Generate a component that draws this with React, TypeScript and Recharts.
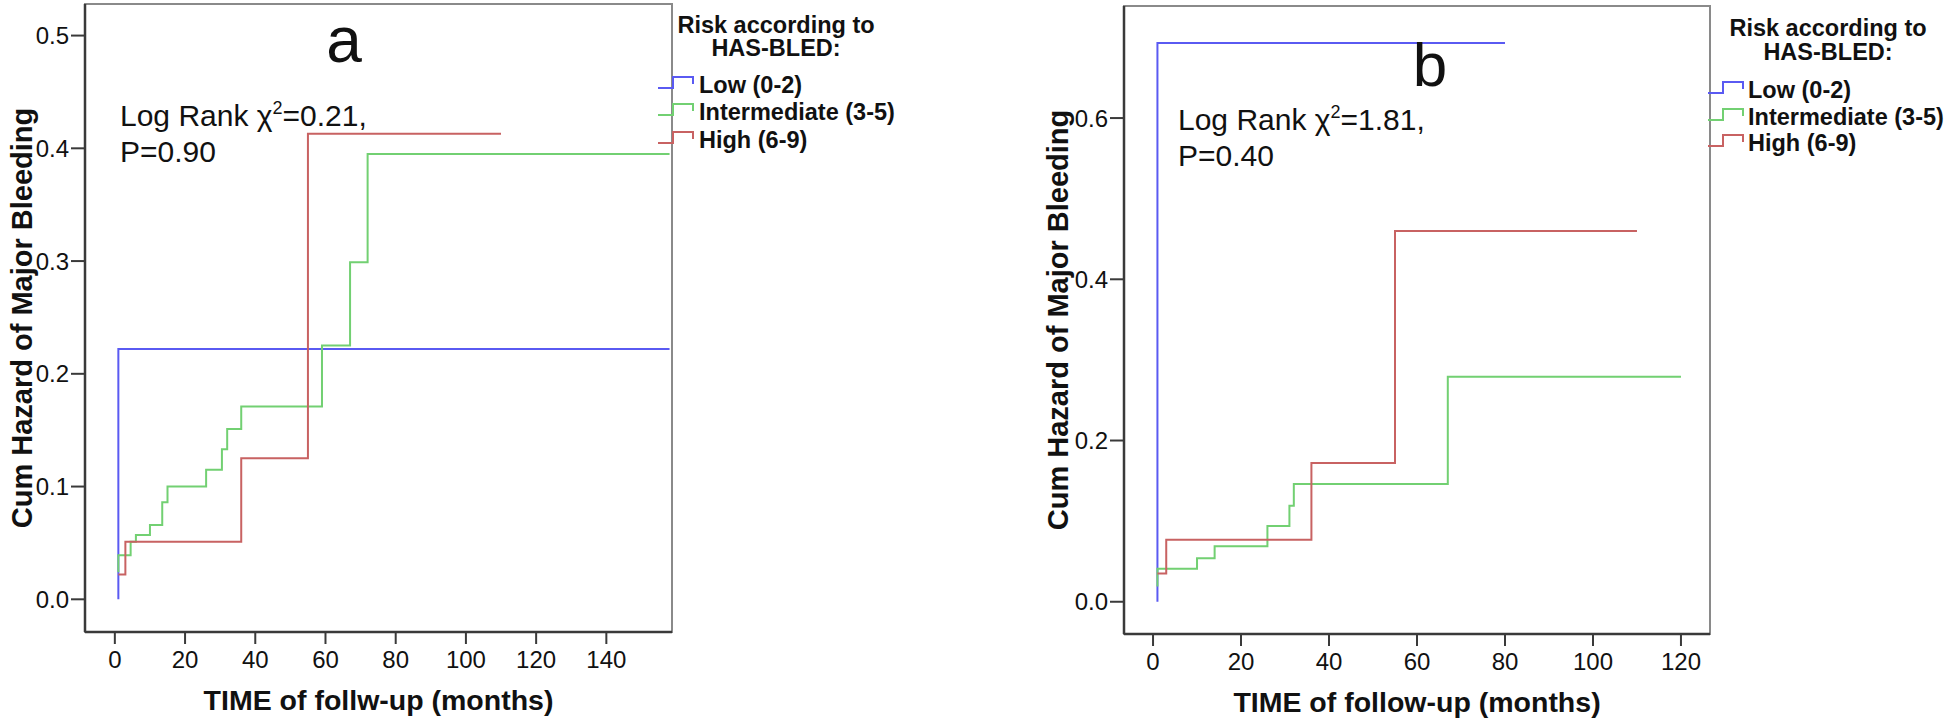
import { LineChart, Line, XAxis, YAxis, ReferenceArea } from 'recharts'

const FONT = "'Liberation Sans', Arial, sans-serif"

const SERIES_NAMES = ['Low (0-2)', 'Intermediate (3-5)', 'High (6-9)']
const SERIES_COLORS = ['#5a5af2', '#72d072', '#c86262']

// panel a: cumulative hazard, whole cohort
const aLowTime = [1, 1, 158]
const aLowHazard = [0, 0.222, 0.222]
const aIntTime = [1, 1, 4.5, 6, 10, 13.5, 15, 26, 30.5, 32, 36, 59, 67, 72, 158]
const aIntHazard = [0.024, 0.039, 0.051, 0.057, 0.066, 0.086, 0.1, 0.115, 0.133, 0.151, 0.171, 0.225, 0.299, 0.395, 0.395]
const aHighTime = [1, 3, 36, 55, 110]
const aHighHazard = [0.022, 0.051, 0.125, 0.413, 0.413]

// panel b
const bLowTime = [1, 1, 80]
const bLowHazard = [0, 0.693, 0.693]
const bIntTime = [1, 1, 10, 14, 26, 31, 32, 67, 120]
const bIntHazard = [0.019, 0.041, 0.054, 0.069, 0.094, 0.119, 0.146, 0.279, 0.279]
const bHighTime = [1, 3, 36, 55, 110]
const bHighHazard = [0.035, 0.077, 0.172, 0.46, 0.46]

const aXTicks = [0, 20, 40, 60, 80, 100, 120, 140]
const aYTicks = [0, 0.1, 0.2, 0.3, 0.4, 0.5]
const bXTicks = [0, 20, 40, 60, 80, 100, 120]
const bYTicks = [0, 0.2, 0.4, 0.6]

const toPoints = (time: number[], hazard: number[]) => time.map((t, i) => ({ t, h: hazard[i] }))

const seriesA = [
  toPoints(aLowTime, aLowHazard),
  toPoints(aIntTime, aIntHazard),
  toPoints(aHighTime, aHighHazard),
]
const seriesB = [
  toPoints(bLowTime, bLowHazard),
  toPoints(bIntTime, bIntHazard),
  toPoints(bHighTime, bHighHazard),
]

type PanelProps = {
  left: number
  width: number
  margin: { top: number; right: number; bottom: number; left: number }
  yAxisWidth: number
  xAxisHeight: number
  xDomain: [number, number]
  yDomain: [number, number]
  xTicks: number[]
  yTicks: number[]
  xTitle: string
  xTitleOffset: number
  yTitleOffset: number
  series: { t: number; h: number }[][]
}

function HazardPanel(p: PanelProps) {
  return (
    <div style={{ position: 'absolute', left: p.left, top: 0 }}>
      <LineChart width={p.width} height={723} margin={p.margin}>
        <ReferenceArea
          x1={p.xDomain[0]}
          x2={p.xDomain[1]}
          y1={p.yDomain[0]}
          y2={p.yDomain[1]}
          fill="none"
          fillOpacity={0}
          stroke="#8a8a8a"
          strokeWidth={2}
        />
        <XAxis
          type="number"
          dataKey="t"
          domain={p.xDomain}
          ticks={p.xTicks}
          allowDataOverflow
          height={p.xAxisHeight}
          axisLine={{ stroke: '#3a3a3a', strokeWidth: 2.5 }}
          tickLine={{ stroke: '#3a3a3a', strokeWidth: 2 }}
          tickSize={12}
          tickMargin={7}
          tick={{ fill: '#111', fontSize: 24, fontFamily: FONT }}
          label={{
            value: p.xTitle,
            position: 'insideBottom',
            offset: p.xTitleOffset,
            style: { fill: '#111', fontSize: 28.5, fontWeight: 'bold', fontFamily: FONT },
          }}
        />
        <YAxis
          type="number"
          domain={p.yDomain}
          ticks={p.yTicks}
          allowDataOverflow
          width={p.yAxisWidth}
          axisLine={{ stroke: '#3a3a3a', strokeWidth: 2.5 }}
          tickLine={{ stroke: '#3a3a3a', strokeWidth: 2 }}
          tickSize={14}
          tickMargin={2}
          tickFormatter={(v: number) => v.toFixed(1)}
          tick={{ fill: '#111', fontSize: 24, fontFamily: FONT }}
          label={{
            value: 'Cum Hazard of Major Bleeding',
            angle: -90,
            position: 'insideLeft',
            offset: p.yTitleOffset,
            style: { textAnchor: 'middle', fill: '#111', fontSize: 29, fontWeight: 'bold', fontFamily: FONT },
          }}
        />
        {p.series.map((pts, i) => (
          <Line
            key={SERIES_NAMES[i]}
            data={pts}
            dataKey="h"
            type="stepAfter"
            stroke={SERIES_COLORS[i]}
            strokeWidth={2}
            dot={false}
            activeDot={false}
            isAnimationActive={false}
          />
        ))}
      </LineChart>
    </div>
  )
}

function LegendBlock({ iconX, textX, titleX, titleY, itemY }: { iconX: number; textX: number; titleX: number; titleY: number[]; itemY: number[] }) {
  return (
    <g fontFamily={FONT} fontWeight="bold" fill="#111" fontSize={23.5}>
      <text x={titleX} y={titleY[0]} textAnchor="middle">Risk according to</text>
      <text x={titleX} y={titleY[1]} textAnchor="middle">HAS-BLED:</text>
      {SERIES_NAMES.map((name, i) => {
        const c = itemY[i]
        return (
          <g key={name}>
            <polyline
              points={`${iconX},${c + 3} ${iconX + 15},${c + 3} ${iconX + 15},${c - 8} ${iconX + 35},${c - 8} ${iconX + 35},${c - 1}`}
              fill="none"
              stroke={SERIES_COLORS[i]}
              strokeWidth={2}
            />
            <text x={textX} y={c + 8}>{name}</text>
          </g>
        )
      })}
    </g>
  )
}

function LogRank({ x, y, chi, p }: { x: number; y: number; chi: string; p: string }) {
  return (
    <g fontFamily={FONT} fill="#111" fontSize={30}>
      <text x={x} y={y}>
        Log Rank χ<tspan dy={-12} fontSize={18}>2</tspan>
        <tspan dy={12}>={chi},</tspan>
      </text>
      <text x={x} y={y + 36}>P={p}</text>
    </g>
  )
}

export default function App() {
  return (
    <div style={{ position: 'absolute', left: 0, top: 0, width: 1946, height: 723, background: '#fff', fontFamily: FONT }}>
      <HazardPanel
        left={0}
        width={680}
        margin={{ top: 4, right: 8, bottom: 0, left: 0 }}
        yAxisWidth={85}
        xAxisHeight={91}
        xDomain={[-8.5, 158.7]}
        yDomain={[-0.029, 0.528]}
        xTicks={aXTicks}
        yTicks={aYTicks}
        xTitle="TIME of follw-up (months)"
        xTitleOffset={13}
        yTitleOffset={22}
        series={seriesA}
      />
      <HazardPanel
        left={1040}
        width={680}
        margin={{ top: 6, right: 10, bottom: 0, left: 0 }}
        yAxisWidth={84}
        xAxisHeight={89}
        xDomain={[-6.6, 126.6]}
        yDomain={[-0.04, 0.739]}
        xTicks={bXTicks}
        yTicks={bYTicks}
        xTitle="TIME of follow-up (months)"
        xTitleOffset={11}
        yTitleOffset={18}
        series={seriesB}
      />
      <svg width={1946} height={723} style={{ position: 'absolute', left: 0, top: 0, pointerEvents: 'none' }}>
        <text x={344} y={62} textAnchor="middle" fontSize={64} fontFamily={FONT} fill="#111">a</text>
        <text x={1430} y={86} textAnchor="middle" fontSize={62} fontFamily={FONT} fill="#111">b</text>
        <LogRank x={120} y={126} chi="0.21" p="0.90" />
        <LogRank x={1178} y={130} chi="1.81" p="0.40" />
        <LegendBlock iconX={658} textX={699} titleX={776} titleY={[33, 56]} itemY={[85, 112, 140]} />
        <LegendBlock iconX={1708} textX={1748} titleX={1828} titleY={[36, 60]} itemY={[90, 117, 143]} />
      </svg>
    </div>
  )
}
